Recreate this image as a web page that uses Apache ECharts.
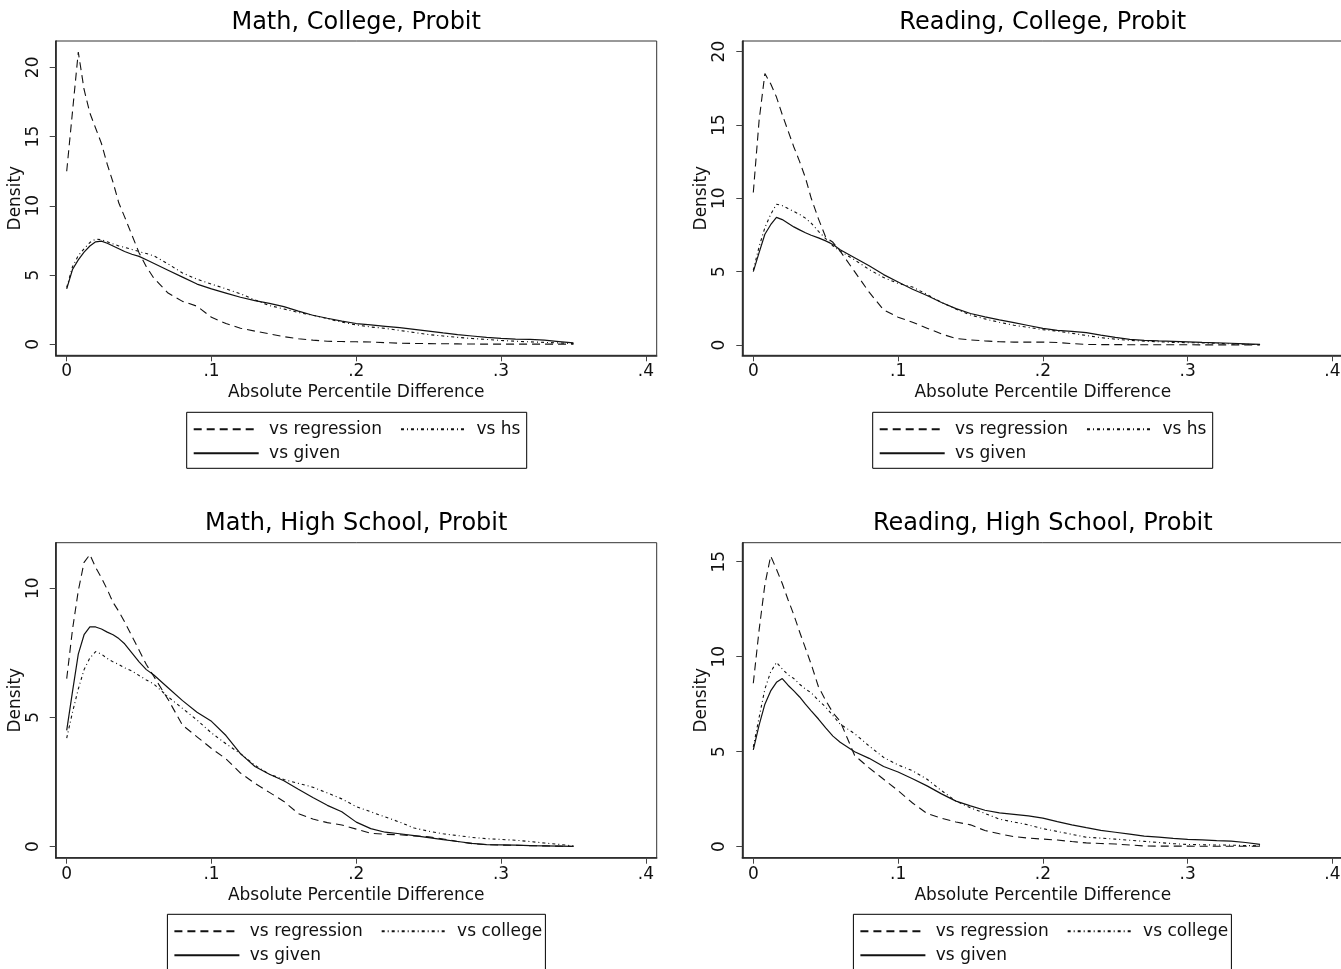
<!DOCTYPE html>
<html>
<head>
<meta charset="utf-8">
<title>Densities of absolute percentile differences</title>
<script src="https://cdn.jsdelivr.net/npm/echarts@6/dist/echarts.min.js"></script>
<style>
  html, body { margin: 0; padding: 0; background: #fff; }
  #chart { width: 1341px; height: 969px; }
</style>
</head>
<body>
<div id="chart"></div>
<script>
// Evaluation points of the kernel density estimates (absolute percentile difference)
const pctDiff = [0, 0.004, 0.008, 0.012, 0.016, 0.02, 0.024, 0.028, 0.032, 0.036, 0.04, 0.045, 0.05, 0.055, 0.06,
  0.07, 0.08, 0.09, 0.10, 0.11, 0.12, 0.13, 0.14, 0.15, 0.16,
  0.17, 0.18, 0.19, 0.20, 0.21, 0.22, 0.23, 0.24, 0.25, 0.26,
  0.27, 0.28, 0.29, 0.30, 0.31, 0.32, 0.33, 0.34, 0.35];

const xTicks = [0, 0.1, 0.2, 0.3, 0.4];
const xTickLabels = ['0', '.1', '.2', '.3', '.4'];

const panelTitles = ['Math, College, Probit', 'Reading, College, Probit',
  'Math, High School, Probit', 'Reading, High School, Probit'];
const yTicks = [[0, 5, 10, 15, 20], [0, 5, 10, 15, 20], [0, 5, 10], [0, 5, 10, 15]];
const yRanges = [[-0.794, 21.9], [-0.70, 20.72], [-0.426, 11.76], [-0.579, 16.0]];
const xRange = [-0.0076, 0.4075];

const xAxisTitle = 'Absolute Percentile Difference';
const yAxisTitle = 'Density';
const otherNames = ['vs hs', 'vs hs', 'vs college', 'vs college'];

// Math, College
const mathCollegeRegression = [12.5, 16.8, 21.1, 18.4, 16.7, 15.6, 14.5, 13.0, 11.7, 10.2, 9.2, 7.9, 6.6, 5.6, 4.8,
  3.7, 3.1, 2.75, 1.95, 1.5, 1.16, 0.95, 0.75, 0.55, 0.4,
  0.3, 0.22, 0.2, 0.18, 0.17, 0.12, 0.08, 0.06, 0.05, 0.04,
  0.03, 0.02, 0.01, 0.01, 0.01, 0.01, 0.01, 0.01, 0.01];
const mathCollegeGiven = [4.0, 5.4, 6.1, 6.65, 7.1, 7.4, 7.45, 7.3, 7.1, 6.9, 6.7, 6.5, 6.35, 6.1, 5.85,
  5.35, 4.85, 4.35, 4.0, 3.7, 3.4, 3.15, 2.95, 2.72, 2.4,
  2.1, 1.88, 1.67, 1.5, 1.4, 1.3, 1.2, 1.08, 0.95, 0.82,
  0.7, 0.6, 0.5, 0.43, 0.38, 0.35, 0.3, 0.2, 0.1];
const mathCollegeHs = [4.1, 5.6, 6.4, 6.9, 7.35, 7.6, 7.55, 7.4, 7.25, 7.1, 7.0, 6.85, 6.7, 6.55, 6.4,
  5.8, 5.15, 4.7, 4.35, 4.0, 3.65, 3.2, 2.8, 2.55, 2.3,
  2.1, 1.85, 1.6, 1.4, 1.25, 1.15, 1.0, 0.85, 0.7, 0.6,
  0.5, 0.42, 0.35, 0.28, 0.22, 0.18, 0.14, 0.1, 0.05];

// Reading, College
const readingCollegeRegression = [10.4, 15.3, 18.5, 17.8, 16.9, 15.7, 14.6, 13.5, 12.5, 11.4, 10.0, 8.6, 7.35, 7.0, 6.4,
  5.0, 3.6, 2.4, 1.9, 1.55, 1.15, 0.75, 0.45, 0.35, 0.28,
  0.22, 0.2, 0.2, 0.2, 0.17, 0.1, 0.04, 0.03, 0.03, 0.02,
  0.02, 0.02, 0.02, 0.02, 0.01, 0.01, 0.01, 0.01, 0.01];
const readingCollegeGiven = [5.0, 6.3, 7.55, 8.2, 8.7, 8.55, 8.3, 8.05, 7.85, 7.65, 7.48, 7.3, 7.1, 6.85, 6.5,
  5.95, 5.4, 4.8, 4.3, 3.8, 3.38, 2.9, 2.48, 2.15, 1.92,
  1.72, 1.53, 1.33, 1.13, 1.0, 0.93, 0.85, 0.68, 0.52, 0.38,
  0.32, 0.28, 0.25, 0.22, 0.18, 0.15, 0.12, 0.08, 0.04];
const readingCollegeHs = [5.1, 6.7, 8.0, 8.9, 9.6, 9.5, 9.3, 9.1, 8.9, 8.65, 8.3, 7.75, 7.25, 6.75, 6.4,
  5.8, 5.15, 4.6, 4.2, 3.95, 3.45, 2.9, 2.45, 2.05, 1.78,
  1.55, 1.35, 1.2, 1.05, 0.95, 0.8, 0.65, 0.5, 0.4, 0.32,
  0.26, 0.22, 0.18, 0.16, 0.14, 0.12, 0.08, 0.05, 0.02];

// Math, High School
const mathHsRegression = [6.5, 8.4, 9.9, 11.0, 11.3, 10.8, 10.4, 9.95, 9.45, 9.1, 8.7, 8.15, 7.6, 7.05, 6.6,
  5.7, 4.7, 4.25, 3.8, 3.4, 2.85, 2.45, 2.1, 1.75, 1.28,
  1.07, 0.93, 0.84, 0.68, 0.52, 0.48, 0.46, 0.42, 0.38, 0.3,
  0.2, 0.12, 0.08, 0.06, 0.05, 0.04, 0.03, 0.02, 0.01];
const mathHsGiven = [4.5, 6.0, 7.45, 8.2, 8.5, 8.5, 8.42, 8.3, 8.2, 8.05, 7.85, 7.5, 7.15, 6.85, 6.65,
  6.15, 5.65, 5.2, 4.85, 4.3, 3.6, 3.1, 2.8, 2.55, 2.22,
  1.9, 1.6, 1.35, 0.95, 0.7, 0.56, 0.5, 0.43, 0.35, 0.27,
  0.2, 0.13, 0.08, 0.07, 0.06, 0.04, 0.03, 0.02, 0.01];
const mathHsCollege = [4.2, 5.2, 6.1, 6.85, 7.3, 7.55, 7.45, 7.28, 7.15, 7.05, 6.92, 6.8, 6.62, 6.45, 6.3,
  5.8, 5.35, 4.9, 4.4, 3.98, 3.6, 3.15, 2.8, 2.6, 2.45,
  2.3, 2.08, 1.85, 1.55, 1.35, 1.15, 0.95, 0.72, 0.6, 0.5,
  0.43, 0.36, 0.31, 0.28, 0.25, 0.2, 0.14, 0.09, 0.03];

// Reading, High School
const readingHsRegression = [8.6, 11.4, 13.8, 15.3, 14.6, 13.85, 13.0, 12.2, 11.3, 10.45, 9.6, 8.42, 7.7, 7.05, 6.6,
  4.8, 4.15, 3.55, 2.95, 2.3, 1.75, 1.5, 1.3, 1.15, 0.85,
  0.68, 0.53, 0.45, 0.4, 0.35, 0.27, 0.2, 0.17, 0.14, 0.09,
  0.04, 0.03, 0.03, 0.03, 0.02, 0.02, 0.02, 0.02, 0.02];
const readingHsGiven = [5.1, 6.4, 7.5, 8.2, 8.65, 8.85, 8.5, 8.2, 7.88, 7.5, 7.15, 6.72, 6.25, 5.82, 5.5,
  5.0, 4.65, 4.22, 3.93, 3.58, 3.2, 2.78, 2.4, 2.15, 1.92,
  1.78, 1.7, 1.62, 1.5, 1.32, 1.15, 1.0, 0.86, 0.76, 0.66,
  0.56, 0.5, 0.44, 0.39, 0.36, 0.32, 0.29, 0.22, 0.12];
const readingHsCollege = [5.25, 6.8, 8.3, 9.2, 9.7, 9.35, 9.05, 8.85, 8.55, 8.3, 8.1, 7.7, 7.35, 6.9, 6.45,
  5.95, 5.3, 4.7, 4.3, 4.0, 3.55, 2.95, 2.4, 2.05, 1.75,
  1.45, 1.3, 1.15, 0.95, 0.8, 0.65, 0.5, 0.45, 0.4, 0.34,
  0.28, 0.22, 0.16, 0.12, 0.1, 0.09, 0.08, 0.06, 0.05];

const regressionCurves = [mathCollegeRegression, readingCollegeRegression, mathHsRegression, readingHsRegression];
const givenCurves = [mathCollegeGiven, readingCollegeGiven, mathHsGiven, readingHsGiven];
const otherCurves = [mathCollegeHs, readingCollegeHs, mathHsCollege, readingHsCollege];

// ---- layout ----
const FONT = 'DejaVu Sans';
const INK = '#111';
const GRID_W = 601;
const layout = [
  { left: 55.7, top: 41, height: 314.3, legendX: 186.7, legendY: 412.3, legendW: 340 },
  { left: 742.3, top: 41, height: 314.3, legendX: 872.7, legendY: 412.3, legendW: 340 },
  { left: 55.7, top: 542.7, height: 315, legendX: 167.4, legendY: 914.3, legendW: 378 },
  { left: 742.3, top: 542.7, height: 315, legendX: 853.4, legendY: 914.3, legendW: 378 }
];
const dashRegression = [8, 5];
const dashOther = [3, 3, 1, 3];

const toPoints = vals => pctDiff.map((x, i) => [x, vals[i]]);

const grids = [], xAxes = [], yAxes = [], series = [], legends = [], graphics = [];

layout.forEach((p, i) => {
  grids.push({
    left: p.left, top: p.top, width: GRID_W, height: p.height,
    show: true, borderColor: '#333', borderWidth: 1, backgroundColor: '#fff',
    containLabel: false, outerBoundsMode: 'none'
  });
  xAxes.push({
    type: 'value', gridIndex: i, min: xRange[0], max: xRange[1],
    splitLine: { show: false },
    axisLine: { show: true, onZero: false, lineStyle: { color: '#222', width: 1.6 } },
    axisTick: { show: true, customValues: xTicks, length: 6, lineStyle: { color: '#444', width: 1 } },
    axisLabel: {
      customValues: xTicks, margin: 8, fontSize: 17, fontFamily: FONT, color: INK,
      formatter: v => xTickLabels[xTicks.findIndex(t => Math.abs(t - v) < 1e-9)]
    },
    name: xAxisTitle, nameLocation: 'middle', nameGap: 29,
    nameTextStyle: { fontSize: 17, fontFamily: FONT, color: INK }
  });
  yAxes.push({
    type: 'value', gridIndex: i, min: yRanges[i][0], max: yRanges[i][1],
    splitLine: { show: false },
    axisLine: { show: true, onZero: false, lineStyle: { color: '#222', width: 1.6 } },
    axisTick: { show: true, customValues: yTicks[i], length: 6, lineStyle: { color: '#444', width: 1 } },
    axisLabel: {
      customValues: yTicks[i], rotate: 90, margin: 14, fontSize: 17, fontFamily: FONT, color: INK,
      formatter: v => String(Math.round(v))
    },
    name: yAxisTitle, nameLocation: 'middle', nameGap: 32,
    nameTextStyle: { fontSize: 17, fontFamily: FONT, color: INK }
  });

  const common = {
    type: 'line', xAxisIndex: i, yAxisIndex: i, symbol: 'none', showSymbol: false,
    silent: true, animation: false, color: INK, itemStyle: { color: INK }
  };
  series.push(Object.assign({}, common, {
    name: 'vs regression', data: toPoints(regressionCurves[i]),
    lineStyle: { color: INK, width: 1.1, type: dashRegression }
  }));
  series.push(Object.assign({}, common, {
    name: otherNames[i], data: toPoints(otherCurves[i]),
    lineStyle: { color: INK, width: 1.1, type: dashOther }
  }));
  series.push(Object.assign({}, common, {
    name: 'vs given', data: toPoints(givenCurves[i]),
    lineStyle: { color: INK, width: 1.2, type: 'solid' }
  }));

  // legend: two rows inside a framed box
  const legendBase = {
    orient: 'horizontal', padding: 0, itemGap: 18, itemWidth: 65, itemHeight: 14,
    selectedMode: false, left: p.legendX + 6,
    itemStyle: { opacity: 0, borderWidth: 0 },
    formatter: n => ' ' + n,
    textStyle: { fontSize: 17, fontFamily: FONT, color: INK, lineHeight: 20 }
  };
  legends.push(Object.assign({}, legendBase, { top: p.legendY + 17 - 10, data: ['vs regression', otherNames[i]] }));
  legends.push(Object.assign({}, legendBase, { top: p.legendY + 41 - 10, data: ['vs given'] }));
  graphics.push({
    type: 'rect', silent: true,
    shape: { x: p.legendX, y: p.legendY, width: p.legendW, height: 56 },
    style: { fill: 'none', stroke: '#000', lineWidth: 1 }
  });
  graphics.push({
    type: 'text', silent: true,
    x: p.left + GRID_W / 2, y: p.top - 18.5,
    style: { text: panelTitles[i], font: '24px "DejaVu Sans"', fill: '#000', align: 'center', verticalAlign: 'middle' }
  });
});

const chart = echarts.init(document.getElementById('chart'));
chart.setOption({
  animation: false,
  backgroundColor: '#fff',
  textStyle: { fontFamily: FONT },
  grid: grids,
  xAxis: xAxes,
  yAxis: yAxes,
  legend: legends,
  series: series,
  graphic: graphics
});
</script>
</body>
</html>
